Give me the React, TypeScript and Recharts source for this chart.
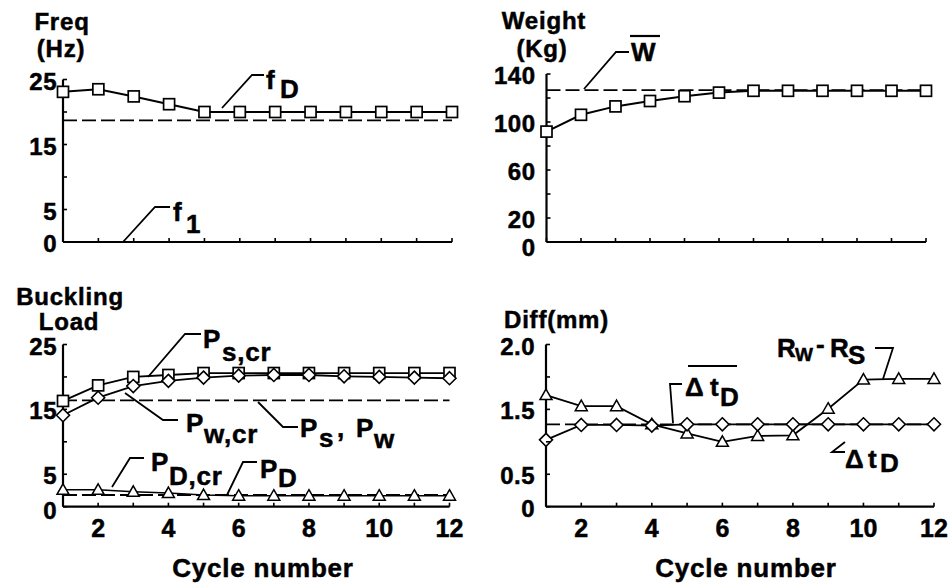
import React from 'react';
import { LineChart, Line, XAxis, YAxis, ReferenceLine } from 'recharts';

// cycle numbers on the x axis
const cycles = [1, 2, 3, 4, 5, 6, 7, 8, 9, 10, 11, 12];
const cycleLabels = ['', '2', '', '4', '', '6', '', '8', '', '10', '', '12'];

// top left: frequency (Hz)
const freqD = [23.1, 23.5, 22.4, 21.2, 20.0, 20.0, 20.0, 20.0, 20.0, 20.0, 20.0, 20.0];
const freqLimit = 18.7;
const freqTicks = [0, 5, 10, 15, 20, 25];
const freqTickLabels = ['0', '5', '', '15', '', '25'];

// top right: weight (Kg)
const weight = [92, 106, 113, 117.5, 121.5, 124.5, 126, 126, 126, 126, 126, 126];
const weightMean = 126.5;
const weightTicks = [0, 20, 40, 60, 80, 100, 120, 140];
const weightTickLabels = ['0', '20', '', '60', '', '100', '', '140'];

// bottom left: buckling load
const pScr = [16.3, 18.7, 20.0, 20.3, 20.6, 20.6, 20.6, 20.6, 20.6, 20.6, 20.6, 20.6];
const pWcr = [14.1, 16.8, 18.6, 19.4, 19.9, 20.2, 20.3, 20.3, 20.1, 20.0, 19.9, 19.8];
const pDcr = [2.6, 2.6, 2.3, 2.1, 1.8, 1.7, 1.7, 1.7, 1.7, 1.7, 1.7, 1.7];
const pSW = 16.4;
const pD = 1.8;
const loadTicks = [0, 5, 10, 15, 20, 25];
const loadTickLabels = ['0', '5', '', '15', '', '25'];

// bottom right: difference (mm)
const rwRs = [1.72, 1.55, 1.55, 1.27, 1.13, 1.0, 1.09, 1.1, 1.51, 1.96, 1.97, 1.97];
const dtD = [1.03, 1.26, 1.26, 1.25, 1.27, 1.27, 1.27, 1.27, 1.27, 1.27, 1.27, 1.27];
const dtDMean = 1.27;
const diffTicks = [0, 0.5, 1, 1.5, 2, 2.5];
const diffTickLabels = ['0', '0.5', '', '1.5', '', '2.0'];

const FONT = '"Liberation Sans", Arial, Helvetica, sans-serif';
const INK = '#000';

const SquareDot = (p: any) => (
  <rect key={'s' + p.index} x={p.cx - 5.5} y={p.cy - 5.5} width={11} height={11} fill="#fff" stroke={INK} strokeWidth={1.7} />
);
const DiamondDot = (p: any) => (
  <polygon
    key={'d' + p.index}
    points={`${p.cx},${p.cy - 6.5} ${p.cx + 6.5},${p.cy} ${p.cx},${p.cy + 6.5} ${p.cx - 6.5},${p.cy}`}
    fill="#fff"
    stroke={INK}
    strokeWidth={1.6}
  />
);
const TriangleDot = (p: any) => (
  <polygon
    key={'t' + p.index}
    points={`${p.cx},${p.cy - 6} ${p.cx + 6},${p.cy + 4.5} ${p.cx - 6},${p.cy + 4.5}`}
    fill="#fff"
    stroke={INK}
    strokeWidth={1.5}
  />
);

const makeXTick = (showLabels: boolean) => (p: any) => {
  const i = cycles.indexOf(p.payload.value);
  return (
    <g>
      <line x1={p.x} x2={p.x} y1={p.y} y2={p.y - 4} stroke={INK} strokeWidth={1.6} />
      {showLabels && (
        <text x={p.x} y={p.y + 30} textAnchor="middle" fontFamily={FONT} fontWeight="bold" fontSize={25}
          fill={INK} stroke={INK} strokeWidth={0.5}>
          {cycleLabels[i]}
        </text>
      )}
    </g>
  );
};

// zeroDy nudges the "0" label down a little, as in the original
const makeYTick = (ticks: number[], labels: string[], gap: number, zeroDy: number) => (p: any) => {
  const i = ticks.indexOf(p.payload.value);
  return (
    <g>
      <line x1={p.x} x2={p.x + 4} y1={p.y} y2={p.y} stroke={INK} strokeWidth={1.6} />
      <text x={p.x - gap} y={p.y + 10 + (i === 0 ? zeroDy : 0)} textAnchor="end" fontFamily={FONT} fontWeight="bold"
        fontSize={24} fill={INK} stroke={INK} strokeWidth={0.5} letterSpacing={0.5}>
        {labels[i]}
      </text>
    </g>
  );
};

type PanelProps = {
  left: number;
  top: number;
  width: number;
  height: number;
  plotLeft: number;
  plotRight: number;
  plotTop: number;
  plotBottom: number;
  domain: [number, number];
  ticks: number[];
  tickLabels: string[];
  gap: number;
  zeroDy: number;
  xLabels: boolean;
  data: any[];
  children: React.ReactNode;
};

const Panel = (pp: PanelProps) => (
  <div style={{ position: 'absolute', left: pp.left, top: pp.top }}>
    <LineChart
      width={pp.width}
      height={pp.height}
      data={pp.data}
      margin={{ top: pp.plotTop, right: pp.width - pp.plotRight, bottom: 0, left: 0 }}
    >
      <XAxis
        dataKey="cycle"
        type="number"
        domain={[1, 12]}
        ticks={cycles}
        interval={0}
        height={pp.height - pp.plotBottom}
        tickSize={0}
        tickMargin={0}
        tickLine={false}
        axisLine={{ stroke: INK, strokeWidth: 2.2 }}
        tick={makeXTick(pp.xLabels)}
      />
      <YAxis
        type="number"
        domain={pp.domain}
        ticks={pp.ticks}
        interval={0}
        width={pp.plotLeft}
        tickSize={0}
        tickMargin={0}
        tickLine={false}
        axisLine={{ stroke: INK, strokeWidth: 2.2 }}
        tick={makeYTick(pp.ticks, pp.tickLabels, pp.gap, pp.zeroDy)}
      />
      {pp.children}
    </LineChart>
  </div>
);

const dash = '14 5';

const T = (props: any) => (
  <text fontFamily={FONT} fontWeight="bold" fontSize={26} fill={INK} stroke={INK} strokeWidth={0.5}
    letterSpacing={0.8} {...props} />
);
const Lead = ({ pts }: { pts: string }) => (
  <polyline points={pts} fill="none" stroke={INK} strokeWidth={1.8} />
);

export default function App() {
  const freqData = cycles.map((c, i) => ({ cycle: c, fD: freqD[i] }));
  const weightData = cycles.map((c, i) => ({ cycle: c, w: weight[i] }));
  const loadData = cycles.map((c, i) => ({ cycle: c, ps: pScr[i], pw: pWcr[i], pd: pDcr[i] }));
  const diffData = cycles.map((c, i) => ({ cycle: c, r: rwRs[i], t: dtD[i] }));

  return (
    <div style={{ position: 'absolute', left: 0, top: 0, width: 948, height: 585, background: '#fff' }}>
      <Panel left={0} top={0} width={474} height={260} plotLeft={63} plotRight={452} plotTop={79.5} plotBottom={242}
        domain={[0, 25]} ticks={freqTicks} tickLabels={freqTickLabels} gap={6} zeroDy={0} xLabels={false} data={freqData}>
        <ReferenceLine y={freqLimit} stroke={INK} strokeWidth={1.8} strokeDasharray={dash} />
        <Line dataKey="fD" stroke={INK} strokeWidth={2} dot={SquareDot} activeDot={false} isAnimationActive={false} />
      </Panel>

      <Panel left={474} top={0} width={474} height={260} plotLeft={72.5} plotRight={452} plotTop={74} plotBottom={242}
        domain={[0, 140]} ticks={weightTicks} tickLabels={weightTickLabels} gap={11} zeroDy={4} xLabels={false} data={weightData}>
        <ReferenceLine y={weightMean} stroke={INK} strokeWidth={1.8} strokeDasharray={dash} />
        <Line dataKey="w" stroke={INK} strokeWidth={2} dot={SquareDot} activeDot={false} isAnimationActive={false} />
      </Panel>

      <Panel left={0} top={260} width={474} height={325} plotLeft={63} plotRight={449.5} plotTop={84.5} plotBottom={246.7}
        domain={[0, 25]} ticks={loadTicks} tickLabels={loadTickLabels} gap={6} zeroDy={2} xLabels={true} data={loadData}>
        <ReferenceLine y={pSW} stroke={INK} strokeWidth={1.8} strokeDasharray={dash} />
        <ReferenceLine y={pD} stroke={INK} strokeWidth={1.8} strokeDasharray={dash} />
        <Line dataKey="ps" stroke={INK} strokeWidth={1.8} dot={SquareDot} activeDot={false} isAnimationActive={false} />
        <Line dataKey="pw" stroke={INK} strokeWidth={1.8} dot={DiamondDot} activeDot={false} isAnimationActive={false} />
        <Line dataKey="pd" stroke={INK} strokeWidth={1.5} dot={TriangleDot} activeDot={false} isAnimationActive={false} />
      </Panel>

      <Panel left={474} top={260} width={474} height={325} plotLeft={72} plotRight={460} plotTop={84.5} plotBottom={246.7}
        domain={[0, 2.5]} ticks={diffTicks} tickLabels={diffTickLabels} gap={11} zeroDy={0} xLabels={true} data={diffData}>
        <ReferenceLine y={dtDMean} stroke={INK} strokeWidth={1.8} strokeDasharray={dash} />
        <Line dataKey="r" stroke={INK} strokeWidth={1.8} dot={TriangleDot} activeDot={false} isAnimationActive={false} />
        <Line dataKey="t" stroke={INK} strokeWidth={1.8} dot={DiamondDot} activeDot={false} isAnimationActive={false} />
      </Panel>

      <svg width={948} height={585} style={{ position: 'absolute', left: 0, top: 0, pointerEvents: 'none' }}>
        {/* top left */}
        <T x={62} y={30} textAnchor="middle" fontSize={24}>Freq</T>
        <T x={61} y={57} textAnchor="middle" fontSize={24}>(Hz)</T>
        <Lead pts="222,108 252,75 264,75" />
        <T x={266} y={89}>f</T>
        <T x={280} y={98}>D</T>
        <Lead pts="123,242 155,207 170,207" />
        <T x={173} y={221}>f</T>
        <T x={186} y={233}>1</T>

        {/* top right */}
        <T x={544} y={29} textAnchor="middle" fontSize={24}>Weight</T>
        <T x={542} y={57} textAnchor="middle" fontSize={24}>(Kg)</T>
        <Lead pts="584,89 616,52 629,52" />
        <T x={631} y={61}>W</T>
        <line x1={630} x2={660} y1={36} y2={36} stroke={INK} strokeWidth={2.2} />

        {/* bottom left */}
        <T x={70} y={305} textAnchor="middle" fontSize={24}>Buckling</T>
        <T x={69} y={330} textAnchor="middle" fontSize={24}>Load</T>
        <Lead pts="148,377 185,334 201,334" />
        <T x={203} y={348}>P</T>
        <T x={222} y={361}>s,cr</T>
        <Lead pts="125,393 163,420 178,420" />
        <T x={186} y={432}>P</T>
        <T x={204} y={443}>w,cr</T>
        <Lead pts="258,402 283,427 298,427" />
        <T x={300} y={437}>P</T>
        <T x={319} y={447}>s</T>
        <T x={337} y={437}>,</T>
        <T x={356} y={437}>P</T>
        <T x={374} y={448}>w</T>
        <Lead pts="112,487 130,458 144,458" />
        <T x={151} y={471}>P</T>
        <T x={169} y={485}>D,cr</T>
        <Lead pts="227,495 243,462 257,462" />
        <T x={260} y={478}>P</T>
        <T x={278} y={487}>D</T>
        <T x={263} y={577} textAnchor="middle">Cycle number</T>

        {/* bottom right */}
        <T x={504} y={328} fontSize={24}>Diff(mm)</T>
        <T x={777} y={357}>R</T>
        <T x={795} y={361} fontSize={19}>W</T>
        <T x={816} y={353}>-</T>
        <T x={830} y={357}>R</T>
        <T x={848} y={364}>S</T>
        <Lead pts="875,348 893,348 883,379" />
        <Lead pts="682,384 670,384 673,423" />
        <T x={685} y={396}>Δ</T>
        <T x={710} y={396}>t</T>
        <T x={720} y={406}>D</T>
        <line x1={688} x2={737} y1={366} y2={366} stroke={INK} strokeWidth={2.2} />
        <Lead pts="845,442 832,452 845,452" />
        <T x={845} y={468}>Δ</T>
        <T x={868} y={468}>t</T>
        <T x={880} y={472}>D</T>
        <T x={746} y={577} textAnchor="middle">Cycle number</T>
      </svg>
    </div>
  );
}
